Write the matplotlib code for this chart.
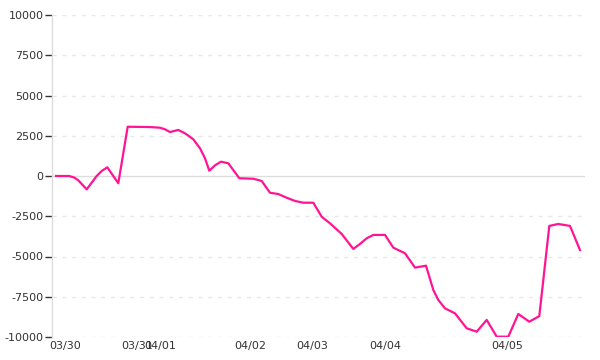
import matplotlib
matplotlib.use("Agg")
from matplotlib import pyplot as plt

# sample positions (time axis, arbitrary units) and values
t = [0, 13, 18, 22, 30.7, 40.7, 45.7, 51.3, 62.3, 71.7, 94, 104, 109, 114, 122.3,
     129, 137.3, 144, 149, 153.3, 159, 165, 172.3, 177.3, 183.3, 197.3, 205.7,
     214, 222.3, 230.7, 239, 247.3, 257.3, 265.7, 274, 285.7, 297.3, 304, 310.7,
     317.3, 329, 337.3, 349, 359, 370, 377.3, 382.3, 389, 399, 410.7, 420.7,
     430.7, 440.7, 452.3, 462.3, 473.3, 483.3, 493.3, 502.3, 514, 524]
values = [0, 0, -90, -250, -830, 0, 310, 540, -450, 3060, 3040, 3000, 2900, 2730,
          2860, 2650, 2280, 1720, 1100, 330, 660, 890, 790, 370, -140, -170, -310,
          -1040, -1120, -1350, -1550, -1660, -1660, -2530, -2940, -3600, -4530,
          -4220, -3870, -3660, -3660, -4450, -4800, -5690, -5570, -7080, -7700,
          -8220, -8530, -9460, -9670, -8940, -9980, -9980, -8570, -9050, -8700,
          -3100, -2980, -3100, -4600]
tick_pos = [9, 81, 104, 194, 256, 329, 451]
tick_labels = ['03/30', '03/31', '04/01', '04/02', '04/03', '04/04', '04/05']
yticks = [-10000, -7500, -5000, -2500, 0, 2500, 5000, 7500, 10000]

fig = plt.figure(figsize=(6, 3.6), dpi=100)
ax = fig.add_axes([52/600, 1-337/360, (585-52)/600, (337-15)/360])

for y in yticks:
    if y == 0:
        ax.axhline(0, color='#dddddd', lw=1, zorder=1)
    else:
        ax.axhline(y, color='#e8e8e8', lw=1, ls=(0, (3, 4)), zorder=1)

ax.plot(t, values, color='#ff1493', lw=1.6, zorder=3)

ax.set_xlim(-4, 529)
ax.set_ylim(-10000, 10000)
ax.set_yticks(yticks)
ax.set_yticklabels([str(y) for y in yticks])
ax.set_xticks(tick_pos)
ax.set_xticklabels(tick_labels)
ax.tick_params(axis='y', length=5, width=1, color='#333333', labelsize=8,
               labelcolor='#333333', pad=1)
ax.tick_params(axis='x', length=0, labelsize=8, labelcolor='#333333', pad=3)

for s in ['top', 'right', 'bottom']:
    ax.spines[s].set_visible(False)
ax.spines['left'].set_color('#dddddd')
ax.spines['left'].set_linewidth(1)

fig.savefig('out.png', dpi=100)
